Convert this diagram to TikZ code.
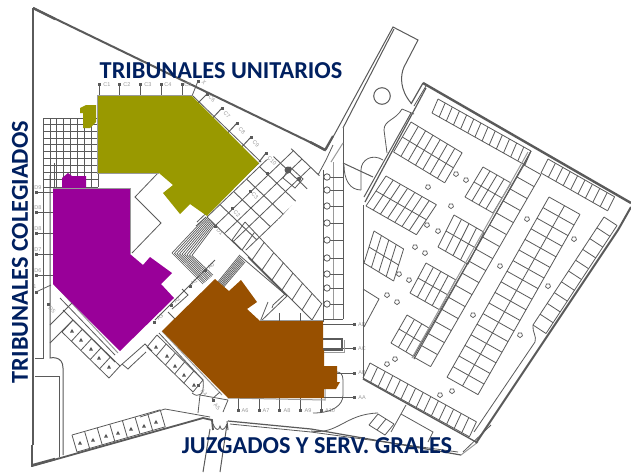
\documentclass[tikz,border=0pt]{standalone}
\usepackage{fontspec}
\setmainfont{Carlito}
\newfontfamily\lblfont{Liberation Sans}
\definecolor{ln}{HTML}{5A5A5A}
\definecolor{lg}{HTML}{9A9A9A}
\definecolor{olv}{HTML}{999900}
\definecolor{prp}{HTML}{990099}
\definecolor{brn}{HTML}{985000}
\definecolor{navy}{HTML}{002060}
\tikzset{
 thinln/.style={draw=ln,line width=0.8pt},
 midln/.style={draw=ln,line width=1pt},
 wall/.style={draw=ln,line width=2.4pt,line join=miter},
 grayln/.style={draw=lg,line width=1pt},
 title/.style={text=navy,font=\fontsize{24.3}{24.3}\selectfont\bfseries,inner sep=0pt},
 lbl/.style={text=lg,font=\lblfont\fontsize{5.5}{5.5}\selectfont,inner sep=0pt}
}
\newcommand\stalls[8]{%
 \foreach \i in {0,...,#7}{\draw[thinln] ({#1+\i*(#3)},{#2+\i*(#4)}) -- ({#1+\i*(#3)+#8*(#5)},{#2+\i*(#4)+#8*(#6)});}%
 \foreach \j in {0,...,#8}{\draw[thinln] ({#1+\j*(#5)},{#2+\j*(#6)}) -- ({#1+\j*(#5)+#7*(#3)},{#2+\j*(#6)+#7*(#4)});}%
}
\newcommand\sqm[2]{\fill[ln] ({#1-1.5},{#2-1.5}) rectangle ({#1+1.5},{#2+1.5});}
\newcommand\lab[4]{\node[lbl,rotate=#3] (l#4) at (#1,#2) {#4};}
\newcommand\tree[2]{\draw[draw=ln,line width=0.7pt,shift={(#1,#2)}] (90:2.6)--(162:2.6)--(234:2.6)--(306:2.6)--(18:2.6)--cycle;}
\newcommand\car[2]{\fill[ln,shift={(#1,#2)}] (0,-2.2)--(2,1.6)--(-2,1.6)--cycle;}
\begin{document}
\begin{tikzpicture}[x=1pt,y=-1pt]
\useasboundingbox (0,0) rectangle (631,472);
\fill[white] (0,0) rectangle (631,472);
% top-left square grid
\foreach \g in {43,50,56,63,70,77,84,91,98}{\draw[thinln] (\g,118)--(\g,187);}
\foreach \g in {118,124,131,138,144,151,158,165,172,179,187}{\draw[thinln] (43,\g)--(98,\g);}
% outer walls
\draw[wall,line width=2pt] (33,8)--(318,146)--(325,150)--(333,136);
\draw[wall] (33,8)--(33,33);
\draw[wall] (33,8)--(55,19);
\draw[wall] (310,142)--(325,150);
\draw[draw=ln,line width=1.5pt] (33,33)--(33,445);
\draw[wall] (32,445)--(32,467);
\draw[wall,line width=1.8pt] (32,466)--(203,418)--(212,420)--(213,430);
\draw[wall] (33,465)--(55,459);
% left inner lines
\draw[midln] (43,175)--(43,358)--(35,358);
\draw[midln] (50,175)--(50,358) .. controls (50,358) and (63,355) .. (63,368)--(63,455);
\draw[midln] (35,376)--(59,376)--(59,457);
\draw[thinln] (54,163)--(54,189);
% D markers
\foreach \g in {192,212,233,254,275}{\draw[midln] (36,\g)--(53,\g); \sqm{36}{\g}}
\sqm{36}{292}\draw[thinln] (36,292)--(51,285);
\sqm{48}{304}\lab{52}{310}{-45}{D5}
\lab{38}{188}{0}{D9}\lab{38}{208}{0}{D8}\lab{38}{229}{0}{D8}\lab{38}{250}{0}{D7}\lab{38}{271}{0}{D6}\lab{35}{287}{0}{1}
% bottom-left stalls
\stalls{72}{435}{12.6}{-3.6}{5}{17}{7}{1}
\foreach \p/\q in {80/443,93/440,106/436,118/433,131/429,144/426,156/422}{\car{\p}{\q}}
% purple-side lines
\draw[grayln] (55,285)--(118,353);
\draw[thinln] (60,298)--(115,355);
\draw[thinln] (50,325)--(72,303);
\draw[thinln] (50,343)--(73,320);
\draw[thinln] (63,310)--(115,362);
\stalls{73}{320}{9.4}{9.2}{-11}{12}{5}{1}
\foreach \p/\q in {72/331,81/340,91/349,99/358,109/367}{\car{\p}{\q}}
\draw[thinln] (120,366)--(145,344)--(152,351);
\draw[thinln] (122,364)--(128,369)--(131,366)--(146,352);
% lines near brown SW edge
\stalls{157}{335}{9.2}{9}{-10}{12}{5}{1}
\foreach \p/\q in {156/347,167/356,175/366,184/375,194/385}{\car{\p}{\q}}
\draw[grayln] (162,331)--(222,395);
\draw[thinln] (159,333)--(203,380);
\draw[thinln] (200,395)--(198,413);
\draw[thinln] (192,393) .. controls (198,398) and (205,396) .. (203,380);
\draw[thinln] (212,399)--(220,392);
\draw[thinln] (228,400)--(223,412);
\draw[thinln] (140,417)--(165,409)--(210,417);
\draw[midln] (210,429)--(203,472);
\draw[midln] (227,424)--(220,472);
\draw[thinln] (213,424) .. controls (216,431) and (219,431) .. (220,426) .. controls (221,431) and (224,431) .. (227,424);
\draw[midln] (227,421)--(228,430);
\draw[draw=ln,line width=1.2pt] (228,421)--(311,429)--(461,455);
\draw[thinln] (230,424)--(311,432)--(458,452);
\draw[grayln] (461,455)--(478,442);
\draw[wall,line width=2pt] (476,443)--(618,230)--(631,207);
\draw[thinln] (463,452)--(491,425);
% A markers
\foreach \p in {238,259,279,300,321}{\draw[midln] (\p,398)--(\p,410); \sqm{\p}{410}}
\lab{245}{411}{0}{A6}\lab{266}{411}{0}{A7}\lab{287}{411}{0}{A8}\lab{308}{411}{0}{A9}\lab{330}{411}{0}{A10}
\sqm{198}{385}\lab{204}{393}{-45}{A4}
\sqm{213}{400}\lab{217}{407}{-45}{A5}
\draw[grayln] (228,398)--(325,400)--(325,375);
% right markers
\foreach \q in {324,348,373,397}{\draw[midln] (323,\q)--(354,\q); \sqm{354}{\q}}
\lab{362}{325}{0}{AD}\lab{362}{349}{0}{AC}\lab{362}{373}{0}{AB}\lab{362}{398}{0}{AA}
\draw[draw=ln,line width=1.2pt] (323,339)--(342,339)--(342,350)--(323,350);
\draw[grayln] (323,352)--(344,352)--(344,340);
\draw[thinln] (337,372) .. controls (340,372) and (343,374) .. (343,380)--(343,395) .. controls (343,405) and (333,413) .. (313,413);
% C markers top
\foreach \p in {99,119,140,161,182}{\draw[midln] (\p,84)--(\p,96); \sqm{\p}{84}}
\lab{107}{85}{0}{C1}\lab{127}{85}{0}{C2}\lab{148}{85}{0}{C3}\lab{168}{85}{0}{C4}\lab{188}{85}{0}{C5}
\draw[thinln] (198,81)--(192,96); \sqm{198}{81} \lab{204}{82}{-45}{X}
\foreach \p/\q/\r/\s in {207/94/194/107, 222/108/209/122, 237/123/224/137, 251/137/238/151, 266/153/259/162}{\draw[midln] (\p,\q)--(\r,\s); \sqm{\p}{\q}}
\lab{212}{99}{-45}{C6}\lab{227}{115}{-45}{C7}\lab{242}{131}{-45}{C8}\lab{256}{144}{-45}{C9}\lab{272}{161}{-45}{C10}
\draw[thinln] (193,96)--(261,162);
% diagonal walkway band
\begin{scope}
\clip (197,222)--(259,163)--(295,147)--(325,152)--(333,148)--(320,175)--(250,250)--(197,250)--cycle;
\foreach \s in {0,18,37,55,73,90,108}{\draw[thinln,line width=0.9pt] ({207+\s*.72},{217-\s*.69}) -- ({207+\s*.72+51*.72},{217-\s*.69+51*.69});}
\foreach \t in {0,12,24,36,51}{\draw[thinln] ({207+\t*.72},{217+\t*.69}) -- ({207+\t*.72+(108)*.72},{217+\t*.69-(108)*.69});}
\end{scope}
\draw[thinln] (197,222)--(259,163);
\draw[thinln] (318,175)--(326,160)--(333,145);
\fill[ln] (288,170) circle (3.5);
\fill[ln] (299,179) circle (2.2);
\draw[thinln] (290,167)--(303,179)--(295,188)--(283,178)--cycle;
\sqm{232}{208}\sqm{250}{191}\sqm{215}{226}\sqm{267}{173}
\lab{237}{214}{-45}{C2}\lab{255}{196}{-45}{C3}\lab{220}{232}{-45}{D1}
% lower stall strip on diagonal
\draw[thinln] (245,222)--(322,304);
\draw[thinln] (232,240)--(312,320);
\foreach \s in {0,...,8}{\draw[thinln] ({245+\s*9.6},{222+\s*10.2})--({232+\s*10},{240+\s*10});}
% inner double zigzag
\draw[thinln] (239,255)--(287,296)--(260,322);
\draw[thinln] (248,257)--(285,294)--(273,305)--(272,308);
\draw[wall,line width=1.2pt] (249,258)--(286,295);
\draw[thinln] (268,302)--(260,322);
\draw[grayln] (260,320)--(323,320);
\foreach \p in {279,300}{\draw[midln] (\p,313)--(\p,321);}
% hatched stairs
\foreach \k in {0,...,8}{\draw[draw=ln,line width=0.7pt]
 ({206+\k*1.1},{217+\k*1}) -- ({172+\k*2.5},{253+\k*0.3}) -- ({203+\k*1.25},{284-\k*1.1});}
\foreach \k in {0,...,6}{\draw[draw=ln,line width=0.7pt]
 ({217+\k*1},{283+\k*0.8}) -- ({239+\k*1},{256+\k*1});}
\sqm{205}{270}\lab{211}{266}{45}{A0}
\sqm{190}{286}\lab{194}{282}{45}{A1}
\sqm{171}{305}\lab{177}{300}{45}{A2}
\sqm{154}{322}\lab{160}{317}{45}{A3}
% middle corridor
\draw[thinln] (206,217)--(196,226);
\draw[thinln] (158,173)--(135,197)--(161,223)--(132,253);
\draw[thinln] (172,309)--(178,304)--(188,295)--(182,289);
\draw[thinln] (168,312)--(176,320)--(188,308);
\draw[thinln] (155,320)--(185,290)--(215,260);
% purple / olive / brown blocks
\fill[prp] (62,190)--(62,178)--(68,173)--(72,176)--(86,176)--(86,190)--cycle;
\fill[prp] (53,189)--(130,189)--(130,254)--(143,265)--(150,257)--(172,273)--(161,284)--(174,298)--(120,351)--(53,284)--cycle;
\draw[grayln] (53,188)--(130,188)--(130,254);
\fill[olv] (80,108)--(86,105)--(96,105)--(96,122)--(90,128)--(83,128)--(83,113)--(80,113)--cycle;
\fill[olv] (97,96)--(192,96)--(259,163)--(207,216)--(190,204)--(180,214)--(163,193)--(173,185)--(159,173)--(97,173)--cycle;
\draw[grayln] (159,173)--(97,173)--(97,95)--(192,95);
\fill[brn] (215,279)--(229,291)--(241,280)--(257,302)--(247,309)--(260,321)--(323,321)--(323,350)--(324,350)--(324,366)--(337,366)--(337,382)--(340,382)--(336,389)--(324,389)--(324,398)--(228,398)--(162,331)--cycle;
% right part: road
\draw[midln] (326,150)--(393,27)--(418,40)--(404,67) .. controls (400,76) and (400,90) .. (411,103);
\draw[midln] (343,128)--(394,29);
\draw[wall,line width=1.2pt] (411,104)--(423,83);
\draw[thinln] (414,106)--(426,86);
\draw[midln] (382,96) circle (8.3);
\draw[midln] (343,128)--(343,163);
\draw[grayln] (343,143)--(331,162);
\draw[grayln] (333,162)--(333,319);
\draw[midln] (323,170)--(323,322);
\draw[midln] (343,163)--(343,319);
\draw[midln] (323,319)--(343,319);
\foreach \q in {177,190,206,223,240,258,274,288,304}{\draw[thinln] (323,\q)--(343,\q);}
\foreach \q in {177,190,206,223,240,258,274,288,304}{\draw[thinln,fill=white] (327,\q) circle (3.2);}
\draw[midln] (343,163)--(373,177);
\draw[thinln] (344,165) .. controls (344,180) and (350,190) .. (361,190);
\draw[thinln] (361,190)--(361,170) .. controls (361,160) and (372,153) .. (383,160);
\draw[thinln] (402,109) .. controls (396,120) and (384,120) .. (384,130) -- (387,153);
\draw[thinln] (402,109)--(414,114);
% parking envelope
\draw[wall,line width=2.4pt] (423,83)--(631,203);
\draw[wall,line width=1.2pt] (426,88)--(365,202);
\draw[midln] (411,113)--(364,197);
\draw[midln] (363,205)--(363,379);
\draw[draw=ln,line width=1.3pt] (363,379)--(476,442);
\draw[thinln] (363,289)--(379,299)--(364,327);
% parking rows
\stalls{438}{99}{7.15}{4}{-6}{14}{13}{1}
\stalls{548}{159}{7.4}{4.2}{-7}{14}{9}{1}
\stalls{411}{122}{7.3}{4.4}{-8.7}{15}{7}{2}
\stalls{386}{176}{7.2}{4.1}{-10}{15}{7}{2}
\stalls{483}{167}{7}{4}{-9}{15}{4}{2}
\stalls{454}{215}{7.5}{4.3}{-8}{16}{4}{2}
\stalls{374}{231}{7.4}{4.5}{-5}{16}{4}{2}
\stalls{426}{263}{7.4}{4.2}{-8}{15}{4}{2}
\stalls{407}{315}{7.4}{4.4}{-8}{14}{3}{2}
\stalls{370}{363}{7.6}{4.2}{-7}{15}{14}{1}
\stalls{524}{165}{-6.9}{12}{17}{9.6}{16}{1}
\stalls{549}{197}{-6}{10.6}{15.5}{8.7}{17}{2}
\stalls{604}{217}{-7.1}{10.8}{13}{8.5}{10}{1}
\draw[midln] (531,151)--(414,359);
\draw[grayln] (528,152)--(412,358);
\draw[thinln] (524,165)--(531,151);
\draw[thinln] (533,325) .. controls (532,332) and (537,336) .. (535,342)--(474,432);
% bottom small
\stalls{378}{414}{8}{5}{-9}{11}{2}{1}
\draw[thinln] (401,414)--(433,432)--(428,442);
\draw[thinln] (406,405)--(391,432);
\draw[thinln] (311,431) .. controls (338,435) and (345,414) .. (378,413);
\draw[thinln] (200,395)--(228,400);
% trees
\foreach \p/\q in {456/174,466/180,428/187,451/206,427/225,438/231,527/219,574/239,415/247,425/253,500/266,548/286,399/274,409/280,387/295,397/302,473/315,520/335,395/359,387/364,440/395,452/391}{\tree{\p}{\q}}
% titles
\node[title] (tu) at (221,71) {TRIBUNALES UNITARIOS};
\node[title,rotate=90] (tc) at (20,252) {TRIBUNALES COLEGIADOS};
\node[title] (jz) at (317,446) {JUZGADOS Y SERV. GRALES};
\end{tikzpicture}
\end{document}
